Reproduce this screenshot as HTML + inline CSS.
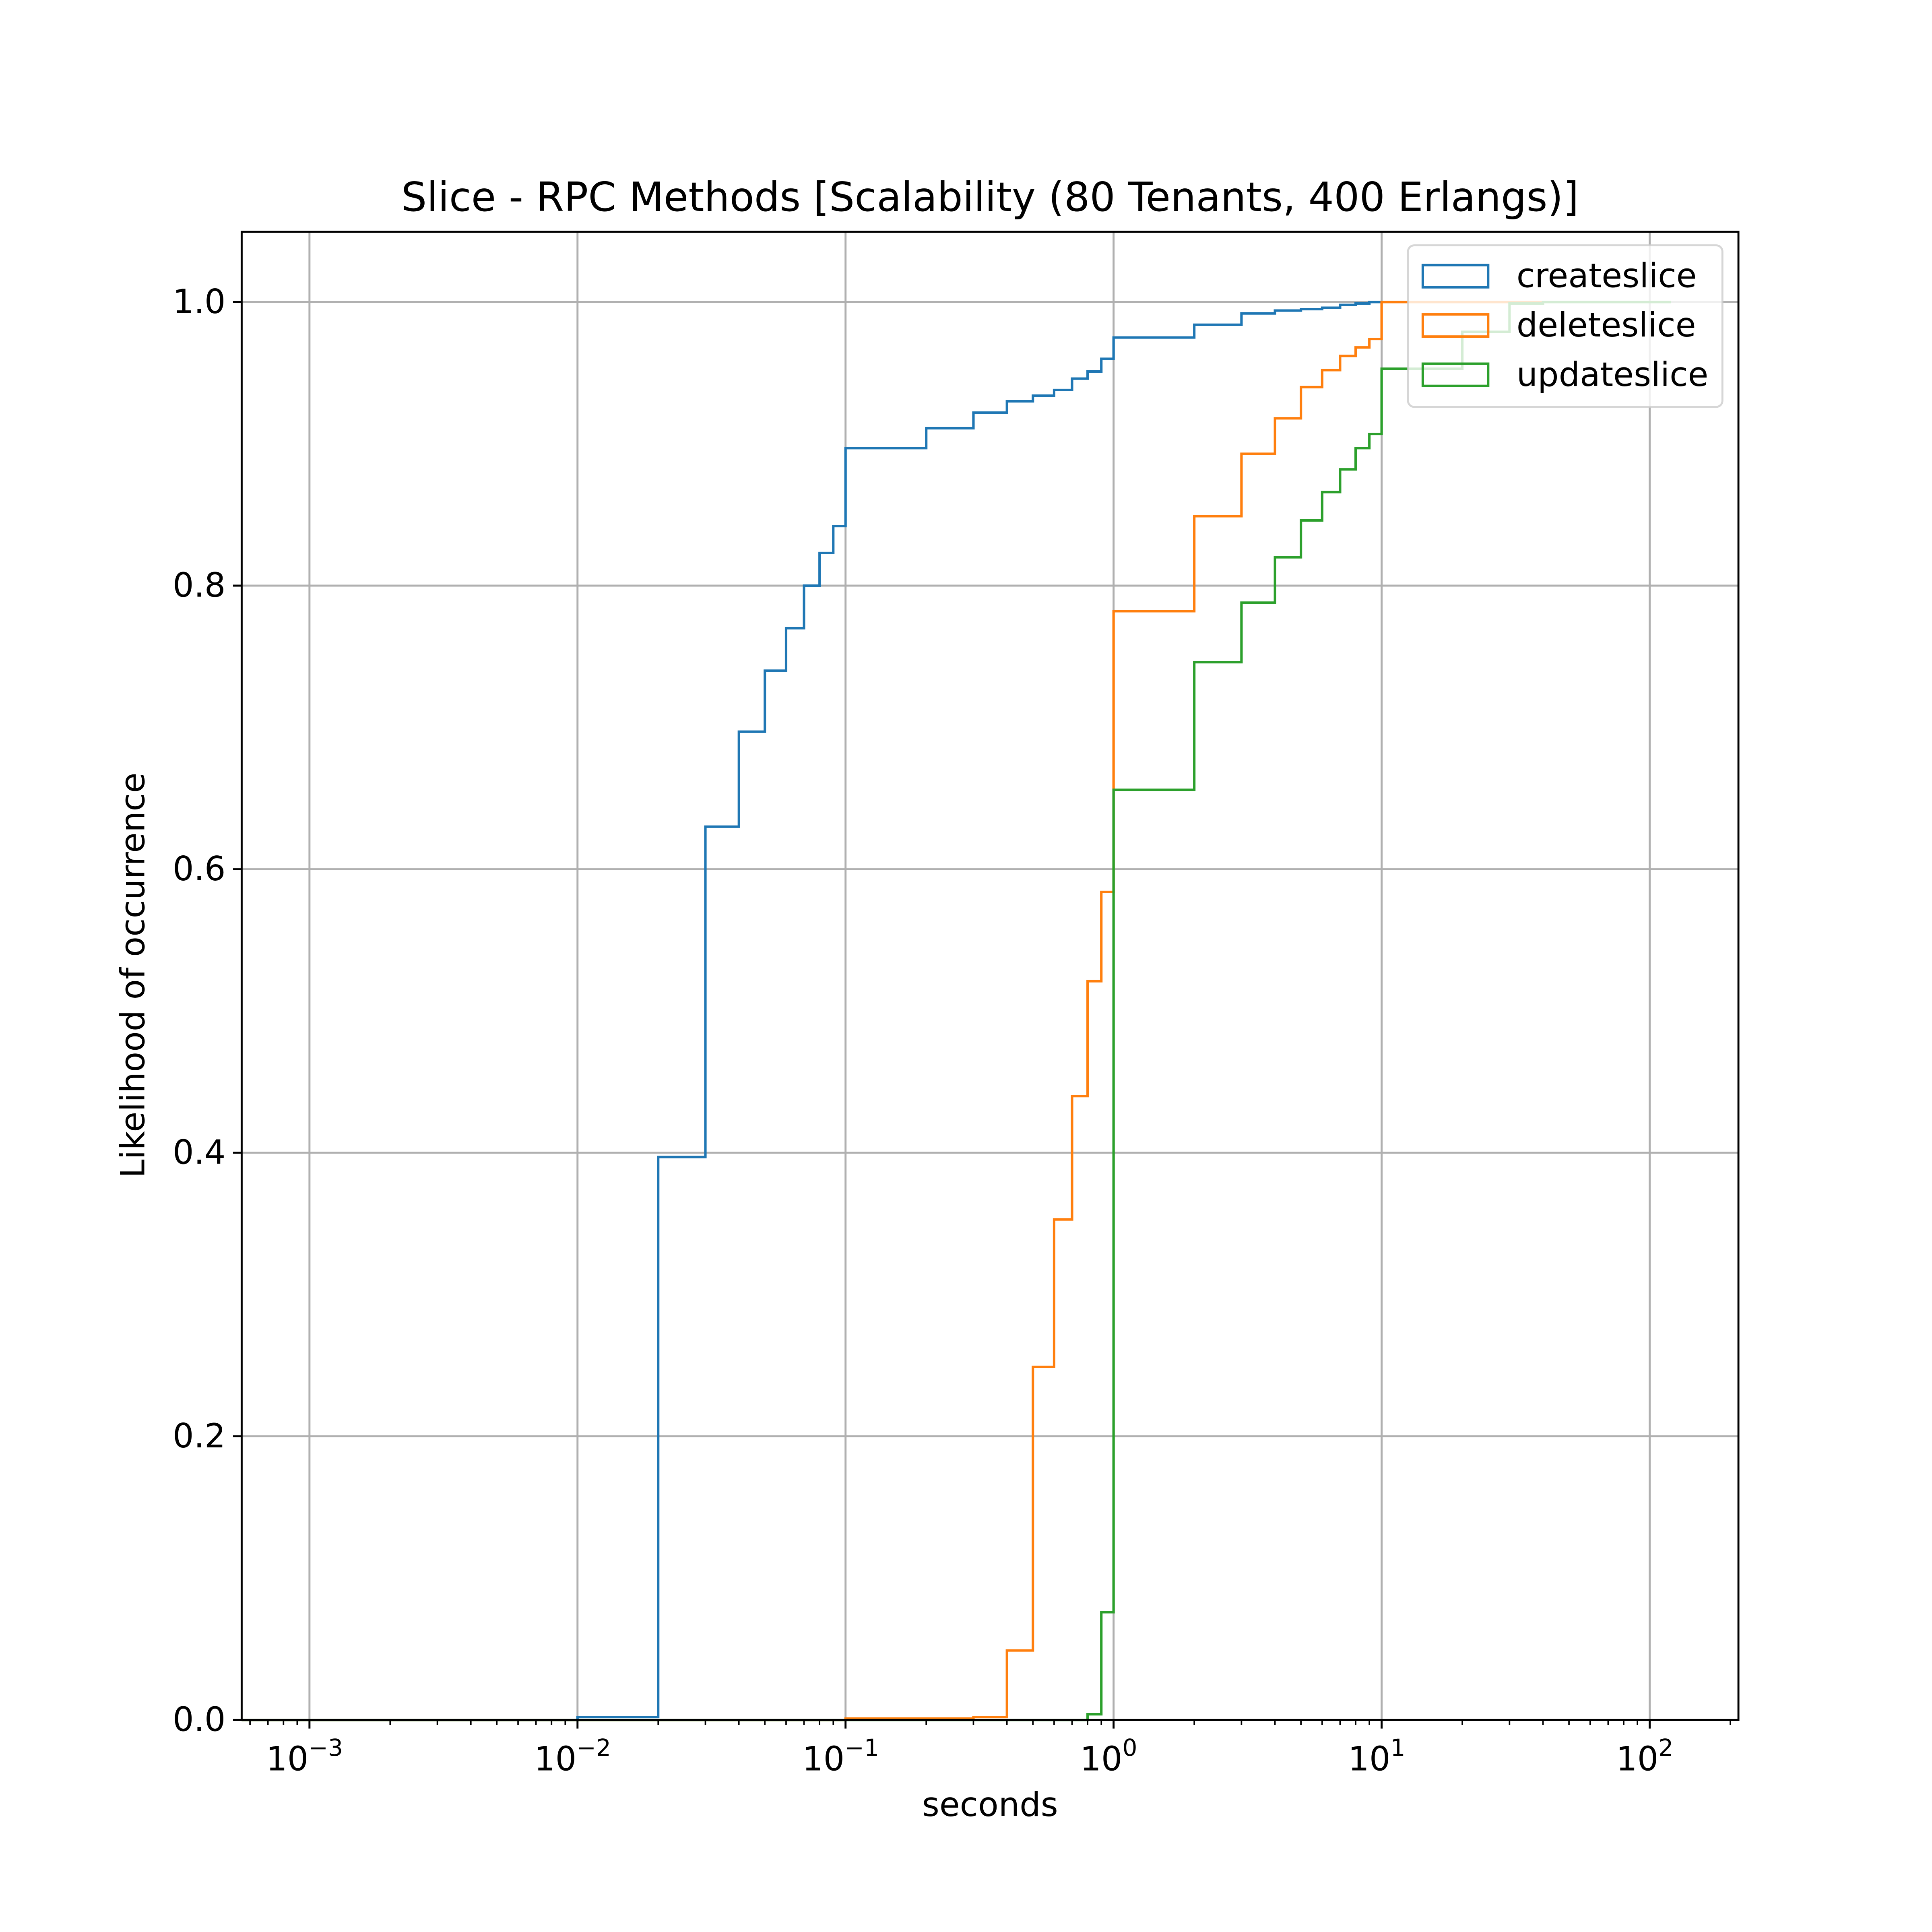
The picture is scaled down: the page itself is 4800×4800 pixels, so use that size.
<!DOCTYPE html>
<html><head><meta charset="utf-8"><style>html,body{margin:0;padding:0;background:#fff}svg{display:block}text{font-family:"DejaVu Sans","Liberation Sans",sans-serif;fill:#000}</style></head>
<body>
<svg id="chart" xmlns="http://www.w3.org/2000/svg" width="4800" height="4800" viewBox="0 0 1567 1567">
<rect width="1567" height="1567" fill="#fff"/>
<g id="grid"></g>
<g id="series"></g>
<g id="axes"></g>
<g id="legend"></g>
</svg>
<script>
const edges = [0.0004, 0.001, 0.01, 0.02, 0.03, 0.04, 0.05, 0.06, 0.07, 0.08, 0.09, 0.1, 0.2, 0.3, 0.4, 0.5, 0.6, 0.7, 0.8, 0.9, 1, 2, 3, 4, 5, 6, 7, 8, 9, 10, 20, 30, 40, 120];
const seriesNames = ["createslice", "deleteslice", "updateslice"];
const seriesColors = ["#1f77b4", "#ff7f0e", "#2ca02c"];
const createVals = [0, 0, 0.002, 0.397, 0.63, 0.697, 0.74, 0.77, 0.80, 0.823, 0.842, 0.897, 0.911, 0.922, 0.930, 0.934, 0.938, 0.946, 0.951, 0.960, 0.975, 0.984, 0.992, 0.994, 0.995, 0.996, 0.998, 0.999, 1.0, 1.0, 1.0, 1.0, 1.0];
const deleteVals = [0, 0, 0, 0, 0, 0, 0, 0, 0, 0, 0, 0.001, 0.001, 0.002, 0.049, 0.249, 0.353, 0.44, 0.521, 0.584, 0.782, 0.849, 0.893, 0.918, 0.94, 0.952, 0.962, 0.968, 0.974, 1.0, 1.0, 1.0, 1.0];
const updateVals = [0, 0, 0, 0, 0, 0, 0, 0, 0, 0, 0, 0, 0, 0, 0, 0, 0, 0, 0.004, 0.076, 0.656, 0.746, 0.788, 0.820, 0.846, 0.866, 0.882, 0.897, 0.907, 0.953, 0.979, 0.999, 1.0];
const yTicks = [0, 0.2, 0.4, 0.6, 0.8, 1.0];
const yTickLabels = ["0.0", "0.2", "0.4", "0.6", "0.8", "1.0"];
const xTickExps = [-3, -2, -1, 0, 1, 2];

const NS = "http://www.w3.org/2000/svg";
const L = 196, R = 1410, T = 188, B = 1395;
const X0 = 251, DEC = (1338 - 251) / 5;
const xlo = -3 - (X0 - L) / DEC, xhi = -3 + (R - X0) / DEC;
function xs(v){ return X0 + (Math.log10(v) + 3) * DEC; }
function ys(v){ return B - v * (B - 245); }
function el(tag, attrs, parent){ const e = document.createElementNS(NS, tag); for (const k in attrs) e.setAttribute(k, attrs[k]); parent.appendChild(e); return e; }
const grid = document.getElementById('grid'), ser = document.getElementById('series'), ax = document.getElementById('axes');

yTicks.forEach(v => { const g = el('line', {x1:L, x2:R, y1:ys(v), y2:ys(v), stroke:'#b0b0b0', 'stroke-width':1.6}, grid);

 });
xTickExps.forEach(e => { const g = el('line', {x1:xs(Math.pow(10,e)), x2:xs(Math.pow(10,e)), y1:T, y2:B, stroke:'#b0b0b0', 'stroke-width':1.6}, grid);

 });

const allVals = [createVals, deleteVals, updateVals];
allVals.forEach((vals, si) => {
  let d = '';
  for (let i = 0; i < vals.length; i++) {
    const xa = Math.max(xs(edges[i]), L), xb = xs(edges[i + 1]);
    const y = ys(vals[i]);
    d += (i === 0 ? 'M' : 'L') + xa.toFixed(2) + ',' + y.toFixed(2) + 'L' + xb.toFixed(2) + ',' + y.toFixed(2);
  }
  const p = el('path', {d:d, fill:'none', stroke:seriesColors[si], 'stroke-width':2, 'stroke-linejoin':'miter'}, ser);
  
  
});

const frame = el('rect', {x:L, y:T, width:R-L, height:B-T, fill:'none', stroke:'#000', 'stroke-width':1.6}, ax);



yTicks.forEach((v, i) => {
  const t = el('line', {x1:L-7, x2:L, y1:ys(v), y2:ys(v), stroke:'#000', 'stroke-width':1.6}, ax);
  
  
  const tx = el('text', {x:L-13, y:ys(v)+9, 'text-anchor':'end', 'font-size':27}, ax);
  tx.textContent = yTickLabels[i];
  
  
});
for (let e = -4; e <= 2; e++) {
  for (let m = 1; m <= 9; m++) {
    const v = m * Math.pow(10, e), lv = Math.log10(v);
    if (lv < xlo || lv > xhi) continue;
    const x = xs(v), len = m === 1 ? 7 : 4;
    const t = el('line', {x1:x, x2:x, y1:B, y2:B+len, stroke:'#000', 'stroke-width': m === 1 ? 1.6 : 1.2}, ax);
    
    
  }
}
xTickExps.forEach(e => {
  const x = xs(Math.pow(10, e));
  const tx = el('text', {x:x-4, y:1436, 'text-anchor':'middle', 'font-size':27}, ax);
  tx.textContent = '10';
  const sp = el('tspan', {dy:-12, 'font-size':19}, tx);
  sp.textContent = e < 0 ? '\u2212' + (-e) : String(e);
  
  
});
</script>
<svg style="position:absolute;left:0;top:0" width="4800" height="4800" viewBox="0 0 1567 1567">
<text x="803" y="171" text-anchor="middle" font-size="32.6">Slice - RPC Methods [Scalability (80 Tenants, 400 Erlangs)]</text>
<text x="803" y="1473" text-anchor="middle" font-size="27">seconds</text>
<text transform="translate(117,791) rotate(-90)" text-anchor="middle" font-size="27">Likelihood of occurrence</text>
<g>
<rect x="1142" y="199" width="255" height="131" rx="5" fill="#fff" fill-opacity="0.8" stroke="#cccccc" stroke-opacity="0.8" stroke-width="1.6"/>
<rect x="1154" y="215" width="53" height="18" fill="none" stroke="#1f77b4" stroke-width="2"/>
<text x="1230" y="233" font-size="27">createslice</text>
<rect x="1154" y="255" width="53" height="18" fill="none" stroke="#ff7f0e" stroke-width="2"/>
<text x="1230" y="273" font-size="27">deleteslice</text>
<rect x="1154" y="295" width="53" height="18" fill="none" stroke="#2ca02c" stroke-width="2"/>
<text x="1230" y="313" font-size="27">updateslice</text>
</g>
</svg>
</body></html>
